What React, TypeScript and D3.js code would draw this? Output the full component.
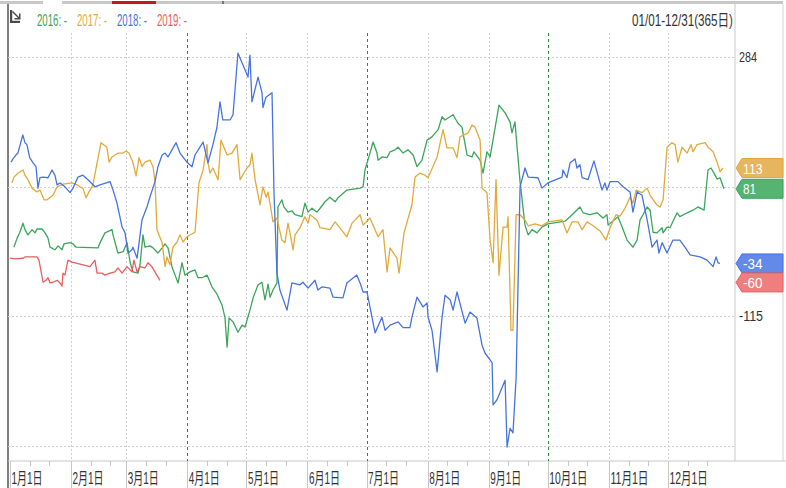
import React, { useLayoutEffect, useRef, useState } from "react";
import * as d3 from "d3";

type Pt = [number, number];

const monthStarts = [0, 31, 59, 90, 120, 151, 181, 212, 243, 273, 304, 334];
const monthLabels = ["1月1日", "2月1日", "3月1日", "4月1日", "5月1日", "6月1日", "7月1日", "8月1日", "9月1日", "10月1日", "11月1日", "12月1日"];
const quarterMonths = [3, 6, 9];
const gridValues = [284, 84.5, -115, -314.5];
const axisTickValues = [284, 85, -115];
const seriesNames = ["2016", "2017", "2018", "2019"];
const seriesColors = ["#3ba55b", "#e3a93b", "#4773e2", "#e95e5e"];
const flagColors = ["#55b471", "#e6b55e", "#6389ea", "#ef7f7f"];
const rangeLabel = "01/01-12/31(365日)";

const s2016: Pt[] = [
  [2, -9], [3.6, 5], [5, 14], [6.6, 28], [7.6, 18], [9.1, 10], [11.2, 18], [12.7, 13], [13.7, 19], [16.2, 19],
  [17.8, 13], [19.3, 5], [20.3, -9], [22.8, -13], [24.4, -7], [26.4, -13], [27.4, -4], [30.5, -2], [32, -4], [33.5, -9],
  [44.7, -10], [45.7, -2], [48.2, 13], [51.8, 18], [52.3, 10], [54.3, -13], [54.8, -18], [57.4, -16], [59.4, -2], [61, -33],
  [62.4, -47], [65, -49], [66, -36], [67.5, 10], [68.5, -9], [71, -7], [72.6, -10], [75.1, -18], [77.2, -10], [78.7, -4],
  [80.2, -10], [82.2, -39], [83.8, -52], [85.3, -64], [87.3, -33], [88.8, -52], [91.4, -47], [93.9, -44], [95.4, -56], [97.5, -56],
  [100, -52], [102.5, -70], [105, -81], [107.6, -98], [109.1, -117], [110.2, -163], [111.2, -118], [113.2, -124], [115.7, -140], [117.8, -129],
  [119.3, -132], [121.8, -106], [123.4, -87], [125.9, -67], [127.9, -63], [129.4, -90], [131, -66], [132, -86], [133.5, -75], [135.5, -64],
  [136, 53], [138, 64], [139, 53], [141.1, 45], [143.1, 47], [144.7, 41], [148.2, 38], [149.7, 59], [151.3, 45], [153.3, 51],
  [155.8, 45], [157.4, 51], [159.9, 61], [162.4, 68], [165, 61], [166.5, 67], [171, 79], [177.7, 82], [179.2, 84], [180.2, 110],
  [182.7, 136], [184.3, 153], [186.3, 136], [186.8, 125], [188.8, 130], [191.4, 129], [192.9, 138], [195.4, 141], [197, 145], [199.5, 136],
  [202, 141], [204.6, 133], [206.6, 115], [209.1, 125], [211.7, 156], [214.2, 161], [217.3, 172], [219.3, 192], [220.8, 187], [224.9, 195],
  [227.4, 182], [229.4, 176], [232, 133], [234.5, 130], [235.5, 138], [238.6, 125], [240.1, 105], [242.1, 138], [243.7, 130], [248.2, 210],
  [251.3, 198], [253.8, 184], [254.8, 167], [256.3, 184], [258.9, 92], [261.4, 25], [263, 10], [265, 18], [267.5, 13], [270, 22],
  [273, 27], [281.7, 31], [284.3, 38], [289.3, 53], [290.9, 44], [294.4, 41], [298, 44], [301, 36], [303, 41], [303.6, 25],
  [308.6, 38], [310.7, 22], [313.2, 2], [316.2, -9], [318.3, 2], [319.8, 33], [321.3, 41], [323.4, 53], [324.9, 48], [326.4, 14],
  [328.4, 13], [331, 21], [331.5, 13], [333.5, 22], [335, 21], [338.6, 44], [340, 38], [343.7, 44], [346.7, 48], [349.2, 53],
  [352.3, 48], [354.3, 110], [355.8, 113], [357.9, 102], [358.9, 96], [360.4, 98], [362.4, 81],
];

const s2017: Pt[] = [
  [1, 90], [2, 99], [4, 105], [6.6, 110], [7.6, 102], [9.1, 95], [11.2, 82], [13.7, 76], [15.2, 79], [17.3, 64],
  [18.8, 64], [21.8, 71], [23.9, 84], [26.9, 88], [31.5, 90], [34, 87], [35.5, 84], [37, 82], [38.6, 67], [40.6, 79],
  [42.1, 87], [44.2, 121], [46.2, 152], [49.2, 145], [50.3, 122], [51.8, 130], [54.8, 136], [57.4, 136], [58.9, 139], [60.4, 136],
  [62.4, 121], [64, 101], [65.5, 129], [67, 115], [68.5, 122], [71, 125], [72.6, 115], [73.6, 92], [74.6, 18], [77.2, -2],
  [78.7, -39], [79.7, -24], [81.2, -36], [82.7, -9], [84.8, -1], [86.3, 10], [87.8, -1], [89.8, 7], [93.9, 14], [95.9, 90],
  [98, 110], [100, 149], [100.5, 121], [101.5, 105], [103, 113], [105.6, 95], [107.1, 156], [110.2, 133], [112.7, 136], [115.2, 149],
  [116.8, 95], [120.3, 113], [121.8, 118], [122.8, 136], [124.4, 95], [126.9, 56], [128.4, 84], [130, 68], [131, 76], [133.5, 30],
  [135.5, 36], [136.5, 22], [138, 2], [139.6, -2], [141.1, 28], [142.1, 13], [143.7, -13], [144.7, 10], [147.2, 21], [149.7, 38],
  [151.3, 28], [152.3, 41], [155.8, 33], [157.4, 21], [162.4, 18], [165, 30], [171, 7], [173.6, 28], [177.7, 41], [179.2, 25],
  [182.7, 36], [186.8, 7], [189.3, 18], [191.4, -47], [192.9, -10], [196.4, -26], [197.5, -49], [200, 13], [204, 56], [205.6, 99],
  [208, 105], [210.7, 102], [212.2, 98], [216.8, 130], [219.8, 172], [221.8, 144], [224.9, 144], [226.9, 129], [228.4, 161], [232.5, 167],
  [234.5, 179], [236, 176], [238.6, 156], [239.6, 82], [242.1, 75], [243.7, 2], [245.2, -33], [246.7, 95], [248.2, -52], [250.3, 22],
  [252.3, 22], [252.8, 38], [254.3, -137], [255.3, -137], [256.9, 41], [258.9, 41], [261.4, 33], [263, 24], [266.5, 27], [270, 24],
  [273, 30], [280.2, 33], [282.7, 13], [285.3, 30], [288.3, 30], [290.4, 18], [292.9, 30], [296, 24], [299.5, 16], [302.5, 2],
  [304.6, 21], [307.6, 41], [309.6, 39], [312.2, 51], [314.7, 68], [316.2, 59], [317.8, 79], [320.8, 75], [323.4, 82], [324.9, 71],
  [328.4, 56], [330, 53], [331.5, 64], [333.5, 145], [336, 152], [337.6, 149], [339, 122], [341.1, 145], [343.7, 136], [345.7, 149],
  [346.7, 138], [348.7, 149], [352.8, 152], [354.3, 145], [356.9, 138], [358.9, 122], [360.4, 107], [361.9, 113],
];

const s2018: Pt[] = [
  [0.5, 122], [1.5, 127], [3, 133], [4, 136], [6.5, 164], [7.6, 152], [8.6, 149], [10, 129], [11.7, 121], [13.2, 115],
  [14.2, 82], [15.2, 98], [16.8, 99], [19.3, 98], [21.3, 110], [22.8, 102], [23.9, 87], [25.4, 90], [27.9, 84], [30.5, 75],
  [32, 82], [34.5, 99], [37, 102], [39.6, 95], [43.1, 84], [45.7, 87], [50.8, 92], [52.3, 79], [54.3, 59], [56.9, 22],
  [58.4, 13], [59.9, -18], [61.9, -13], [62.4, -9], [64.5, -26], [67, 33], [69.5, 53], [71, 68], [73.6, 92], [75.1, 115],
  [77.2, 133], [78.7, 136], [80.2, 130], [82.2, 141], [84.3, 152], [86.3, 136], [89.8, 122], [92.4, 115], [93.9, 133], [98, 153],
  [100.5, 121], [103, 149], [105, 175], [106.6, 215], [108, 187], [111.7, 187], [113.2, 195], [115.7, 290], [120.8, 253], [121.8, 287],
  [122.8, 215], [125.9, 253], [127.9, 229], [128.4, 206], [129.9, 222], [133, 229], [134, 75], [135.5, -49], [137, -75], [140.6, -106],
  [143.1, -64], [147.2, -67], [148.7, -63], [151.3, -72], [154.8, -60], [156.3, -75], [158.4, -70], [162.4, -72], [164, -86], [169, -87],
  [171, -64], [176, -52], [177.7, -64], [179.2, -78], [181.2, -78], [182.7, -101], [185.3, -141], [188.8, -117], [190.4, -137], [192.9, -129],
  [197, -124], [199.5, -133], [203, -133], [204, -117], [206.6, -86], [209.6, -101], [211.7, -95], [212.2, -117], [214.2, -137], [216.8, -201],
  [219.3, -117], [220.8, -83], [223.4, -90], [224.9, -106], [226.9, -78], [231, -126], [233.5, -109], [237, -118], [239.6, -160], [241.1, -172],
  [244.7, -187], [245.2, -252], [247.2, -244], [251.3, -214], [252.3, -317], [253.8, -288], [255.3, -295], [256.9, -210], [258.9, 84], [261.4, 113],
  [263, 99], [268, 98], [270, 82], [273, 90], [280.2, 99], [280.7, 110], [282.7, 98], [284.3, 121], [286.8, 127], [287.8, 113],
  [289.3, 118], [290.4, 98], [293.4, 95], [296.4, 124], [300.5, 79], [302, 90], [303, 79], [304.6, 92], [308.6, 92], [311.2, 84],
  [314.7, 76], [316.2, 45], [318.3, 76], [320.8, 71], [323.4, 33], [325.9, -9], [328.4, 2], [329.4, -18], [331, -2], [333.5, -18],
  [336.5, 2], [340, 2], [342.6, -9], [345.2, -21], [350.3, -24], [353.8, -29], [356.9, -39], [358.4, -24], [359.4, -33], [360.4, -34],
];

const s2019: Pt[] = [
  [0, -26], [2.5, -27], [6.6, -26], [7.6, -24], [13.7, -24], [14.7, -29], [16.8, -63], [18.3, -60], [19.3, -56], [20.3, -64],
  [21.8, -63], [23.9, -60], [25.4, -64], [26.4, -69], [26.9, -49], [27.9, -52], [29.4, -29], [31.5, -32], [40.6, -39], [43.1, -29],
  [44.2, -49], [46.7, -49], [48.2, -52], [50.8, -49], [53.3, -47], [54.8, -41], [56.9, -49], [59.4, -39], [61.9, -47], [62.9, -29],
  [64.5, -47], [66, -39], [68.5, -41], [70, -33], [72, -39], [76.1, -60],
];

const allSeries = [s2016, s2017, s2018, s2019];

const W = 786;
const H = 488;
const LEFT = 8;
const PLOT_R = 735;
const RIGHT = 783;
const AXIS_Y = 461;
const GRID_TOP = 33;
const FONT = "'Liberation Sans', Arial, 'Noto Sans CJK SC', sans-serif";

// Text squeezed horizontally to a target width (the reference uses a condensed face)
function FitText(props: {
  x: number;
  y: number;
  w: number;
  size: number;
  fill: string;
  anchor?: "start" | "end";
  children: string;
}) {
  const ref = useRef<SVGTextElement>(null);
  const [s, setS] = useState(1);
  useLayoutEffect(() => {
    if (ref.current) {
      const len = ref.current.getComputedTextLength();
      if (len > 0) setS(props.w / len);
    }
  }, [props.w, props.children, props.size]);
  return (
    <text
      ref={ref}
      transform={`translate(${props.x},${props.y}) scale(${s},1)`}
      fontSize={props.size}
      fill={props.fill}
      textAnchor={props.anchor || "start"}
    >
      {props.children}
    </text>
  );
}

export default function App() {
  const x = d3.scaleLinear().domain([0, 368]).range([10, PLOT_R]);
  const y = d3.scaleLinear().domain([-115, 284]).range([316, 57]);
  const line = d3
    .line<Pt>()
    .x((d) => x(d[0]))
    .y((d) => y(d[1]));

  // end-value flags, pushed apart so they don't overlap
  const FH = 19;
  const flags = allSeries
    .map((s, i) => ({ i, v: s[s.length - 1][1], cy: y(s[s.length - 1][1]) }))
    .sort((a, b) => a.cy - b.cy);
  for (let k = 1; k < flags.length; k++) {
    if (flags[k].cy < flags[k - 1].cy + FH) flags[k].cy = flags[k - 1].cy + FH;
  }

  const minorTicks: number[] = [];
  monthStarts.forEach((m) => {
    minorTicks.push(m + 10, m + 20);
  });

  const legendX = [37, 77, 117, 157];

  return (
    <svg
      width={W}
      height={H}
      style={{ position: "absolute", left: 0, top: 0, background: "#fff" }}
      fontFamily={FONT}
    >
      <rect x={0} y={0} width={W} height={H} fill="#fff" />
      {/* top bar */}
      <line x1={0} x2={RIGHT} y1={2.5} y2={2.5} stroke="#c8c8c8" strokeWidth={3} />
      <line x1={43} x2={62} y1={2.5} y2={2.5} stroke="#fff" strokeWidth={3} />
      <line x1={112} x2={156} y1={2.5} y2={2.5} stroke="#c41a1a" strokeWidth={3} />
      <line x1={222} x2={224} y1={2.5} y2={2.5} stroke="#777" strokeWidth={3} />

      {/* frame lines */}
      <line x1={LEFT} x2={LEFT} y1={4} y2={H} stroke="#555" strokeWidth={1.5} />
      <line x1={PLOT_R} x2={PLOT_R} y1={4} y2={AXIS_Y} stroke="#c8c8c8" strokeWidth={1} />
      <line x1={RIGHT} x2={RIGHT} y1={4} y2={AXIS_Y} stroke="#d4d4d4" strokeWidth={1} />
      <line x1={LEFT} x2={W} y1={AXIS_Y} y2={AXIS_Y} stroke="#c8c8c8" strokeWidth={1} />

      {/* horizontal grid */}
      {gridValues.map((v) => (
        <line
          key={"h" + v}
          x1={LEFT}
          x2={PLOT_R}
          y1={Math.round(y(v)) + 0.5}
          y2={Math.round(y(v)) + 0.5}
          stroke="#cfcfcf"
          strokeDasharray="2,2"
        />
      ))}

      {/* vertical grid */}
      {monthStarts.map((m, i) =>
        i === 0 ? null : (
          <line
            key={"v" + m}
            x1={Math.round(x(m)) + 0.5}
            x2={Math.round(x(m)) + 0.5}
            y1={GRID_TOP}
            y2={AXIS_Y}
            stroke={quarterMonths.includes(i) ? "#2f8a3e" : "#d0d0d0"}
            strokeDasharray={quarterMonths.includes(i) ? "3,3" : "2,2"}
          />
        )
      )}

      {/* x axis ticks and labels */}
      {monthStarts.map((m, i) => (
        <g key={"t" + m}>
          <line
            x1={Math.round(x(m)) + 0.5}
            x2={Math.round(x(m)) + 0.5}
            y1={AXIS_Y}
            y2={H}
            stroke="#c8c8c8"
          />
          <FitText x={x(m) + 1.5} y={484} size={16} fill="#333" w={monthLabels[i].length > 4 ? 38 : 31}>
            {monthLabels[i]}
          </FitText>
        </g>
      ))}
      {minorTicks.map((d) => (
        <line
          key={"m" + d}
          x1={Math.round(x(d)) + 0.5}
          x2={Math.round(x(d)) + 0.5}
          y1={AXIS_Y}
          y2={AXIS_Y + 5}
          stroke="#c8c8c8"
        />
      ))}

      {/* series lines */}
      {allSeries.map((s, i) => (
        <path
          key={"s" + i}
          d={line(s) || ""}
          fill="none"
          stroke={seriesColors[i]}
          strokeWidth={1.3}
          strokeLinejoin="round"
        />
      ))}

      {/* right axis labels */}
      {axisTickValues.map((v) => (
        <FitText key={"a" + v} x={739} y={y(v) + 5} size={15} fill="#333" w={String(v).length * 6}>
          {String(v)}
        </FitText>
      ))}

      {/* flags */}
      {flags.map((f) => {
        const cy = f.cy;
        const pts = [
          [736, cy],
          [742, cy - FH / 2],
          [RIGHT, cy - FH / 2],
          [RIGHT, cy + FH / 2],
          [742, cy + FH / 2],
        ]
          .map((p) => p.join(","))
          .join(" ");
        const label = String(Math.round(f.v));
        return (
          <g key={"f" + f.i}>
            <polygon points={pts} fill={flagColors[f.i]} stroke={seriesColors[f.i]} strokeWidth={1} />
            <FitText x={743} y={cy + 5.5} size={15} fill="#fff" w={label.length * 6.5}>
              {label}
            </FitText>
          </g>
        );
      })}

      {/* icon */}
      <g fill="#4a4a4a">
        <rect x={10} y={10} width={2.2} height={13} />
        <rect x={10} y={20.8} width={10} height={2.2} />
        <path d="M13,11 L19,17 L19,13.5 L20.5,13.5 L20.5,19.5 L14.5,19.5 L14.5,18 L18,18 L12,12 Z" />
      </g>

      {/* legend */}
      {seriesNames.map((n, i) => (
        <FitText key={"l" + n} x={legendX[i]} y={26} size={16} fill={seriesColors[i]} w={30}>
          {n + ": -"}
        </FitText>
      ))}

      <FitText x={733} y={26} size={16} fill="#333" anchor="end" w={101}>
        {rangeLabel}
      </FitText>
    </svg>
  );
}
